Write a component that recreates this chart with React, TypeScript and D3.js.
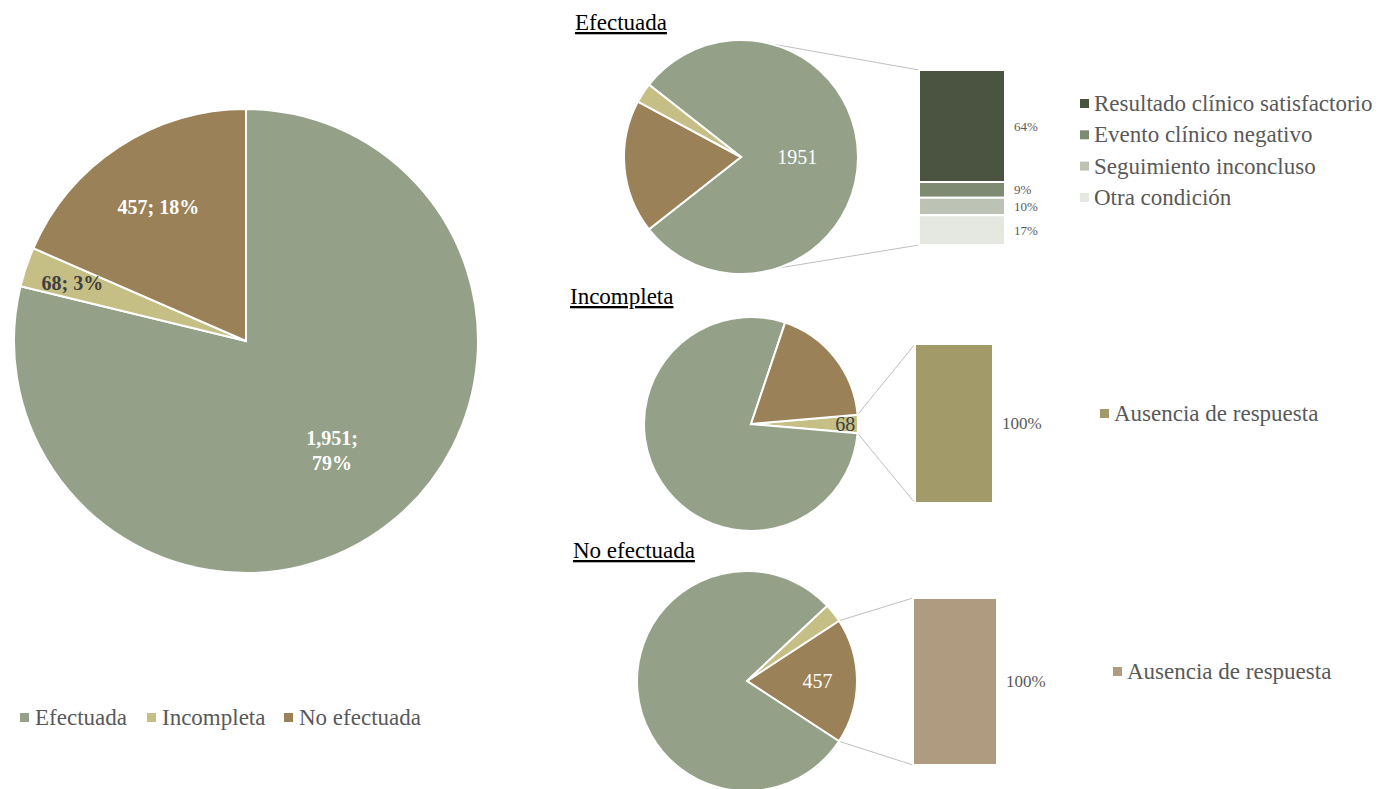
import React from "react";
import * as d3 from "d3";

// ---------- data ----------
const CATEGORIES = ["Efectuada", "Incompleta", "No efectuada"];
const COUNTS = [1951, 68, 457];
const CAT_COLORS = ["#94A088", "#C5BF85", "#9B8157"];

const EFECTUADA_SUB = [
  "Resultado clínico satisfactorio",
  "Evento clínico negativo",
  "Seguimiento inconcluso",
  "Otra condición",
];
const EFECTUADA_PCT = [64, 9, 10, 17];
const EFECTUADA_COLORS = ["#4B5341", "#7F8A72", "#BCC3B5", "#E5E7E1"];

const INCOMPLETA_SUB = ["Ausencia de respuesta"];
const INCOMPLETA_PCT = [100];
const INCOMPLETA_COLORS = ["#A29A68"];

const NO_EFECTUADA_SUB = ["Ausencia de respuesta"];
const NO_EFECTUADA_PCT = [100];
const NO_EFECTUADA_COLORS = ["#AE9B80"];

const FONT = "'Liberation Serif', 'Times New Roman', serif";
const GRAY = "#595959";
const TOTAL = d3.sum(COUNTS);
const fmtComma = d3.format(",");
const fmtPct = d3.format(".0%");
const deg = Math.PI / 180;

function pt(cx: number, cy: number, r: number, a: number) {
  return [cx + r * Math.sin(a), cy - r * Math.cos(a)];
}

function MainPie() {
  const cx = 246, cy = 341, r = 232;
  const arcs = d3.pie<number>().sort(null).value((d) => d)(COUNTS);
  const arc = d3.arc<any>().innerRadius(0).outerRadius(r);
  const labelR = [0.6, 0.79, 0.69];
  const labelColor = ["#fff", "#404040", "#fff"];
  return (
    <g>
      <g transform={`translate(${cx},${cy})`}>
        {arcs.map((a, i) => (
          <path key={i} d={arc(a) as string} fill={CAT_COLORS[i]} stroke="#fff" strokeWidth={2} />
        ))}
        {arcs.map((a, i) => {
          const mid = (a.startAngle + a.endAngle) / 2;
          const [x, y] = pt(0, 0, r * labelR[i], mid);
          const cnt = fmtComma(COUNTS[i]);
          const pc = fmtPct(COUNTS[i] / TOTAL);
          const lines = i === 0 ? [cnt + ";", pc] : [cnt + "; " + pc];
          return (
            <text key={i} x={x} textAnchor="middle" fontFamily={FONT} fontWeight="bold" fontSize={20} fill={labelColor[i]}>
              {lines.map((l, j) => (
                <tspan key={j} x={x} y={y + 7 + (j - (lines.length - 1) / 2) * 25}>{l}</tspan>
              ))}
            </text>
          );
        })}
      </g>
      {/* legend */}
      {CATEGORIES.map((c, i) => {
        const xs = [20, 147, 284];
        return (
          <g key={c}>
            <rect x={xs[i]} y={713} width={9} height={9} fill={CAT_COLORS[i]} />
            <text x={xs[i] + 15} y={725} fontFamily={FONT} fontSize={23} fill={GRAY}>{c}</text>
          </g>
        );
      })}
    </g>
  );
}

type SmallCfg = {
  title: string; titleX: number; titleY: number;
  cx: number; cy: number; r: number;
  order: number[];
  labelR: number; labelColor: string;
  connAngles?: number[];
  bar: { x0: number; x1: number; y0: number; y1: number };
  pct: number[]; colors: string[]; subs: string[];
  barLabelSize: number;
  legend: { x: number; y: number; step: number };
};

function SmallPie({ cfg }: { cfg: SmallCfg }) {
  const { cx, cy, r, order } = cfg;
  const h = order[0];
  const span = (COUNTS[h] / TOTAL) * 2 * Math.PI;
  const s = Math.PI / 2 - span / 2;
  const arcs = d3.pie<number>().sort(null).startAngle(s).endAngle(s + 2 * Math.PI).value((d) => COUNTS[d])(order);
  const arc = d3.arc<any>().innerRadius(0).outerRadius(r);
  const hi = arcs[0];
  const mid = (hi.startAngle + hi.endAngle) / 2;
  const [lx, ly] = pt(cx, cy, r * cfg.labelR, mid);
  const aTop = cfg.connAngles ? cfg.connAngles[0] : hi.startAngle;
  const aBot = cfg.connAngles ? cfg.connAngles[1] : hi.endAngle;
  const [tx, ty] = pt(cx, cy, r, aTop);
  const [bx, by] = pt(cx, cy, r, aBot);
  const { bar } = cfg;
  const y = d3.scaleLinear().domain([0, d3.sum(cfg.pct)]).range([bar.y0, bar.y1]);
  const cum = [0];
  cfg.pct.forEach((p) => cum.push(cum[cum.length - 1] + p));
  return (
    <g>
      <text x={cfg.titleX} y={cfg.titleY} fontFamily={FONT} fontSize={23} fill="#000" style={{ textDecoration: "underline" }}>
        {cfg.title}
      </text>
      <line x1={tx} y1={ty} x2={bar.x0} y2={bar.y0} stroke="#BFBFBF" strokeWidth={1} />
      <line x1={bx} y1={by} x2={bar.x0} y2={bar.y1} stroke="#BFBFBF" strokeWidth={1} />
      <g transform={`translate(${cx},${cy})`}>
        {arcs.map((a, i) => (
          <path key={i} d={arc(a) as string} fill={CAT_COLORS[a.data]} stroke="#fff" strokeWidth={2} />
        ))}
      </g>
      <text x={lx} y={ly + 7} textAnchor="middle" fontFamily={FONT} fontSize={20} fill={cfg.labelColor}>
        {String(COUNTS[h])}
      </text>
      {cfg.pct.map((p, i) => (
        <g key={i}>
          <rect x={bar.x0} y={y(cum[i])} width={bar.x1 - bar.x0} height={y(cum[i + 1]) - y(cum[i])}
            fill={cfg.colors[i]} stroke="#fff" strokeWidth={2} />
          <text x={bar.x1 + 9} y={(y(cum[i]) + y(cum[i + 1])) / 2} dy="0.35em" fontFamily={FONT}
            fontSize={cfg.barLabelSize} fill={GRAY}>{p + "%"}</text>
        </g>
      ))}
      {cfg.subs.map((sname, i) => (
        <g key={i}>
          <rect x={cfg.legend.x} y={cfg.legend.y + i * cfg.legend.step - 4} width={9} height={9} fill={cfg.colors[i]} />
          <text x={cfg.legend.x + 14} y={cfg.legend.y + i * cfg.legend.step + 8} fontFamily={FONT} fontSize={23} fill={GRAY}>{sname}</text>
        </g>
      ))}
    </g>
  );
}

const SMALL: SmallCfg[] = [
  {
    title: CATEGORIES[0], titleX: 575, titleY: 30,
    cx: 741, cy: 157, r: 117, order: [0, 2, 1],
    labelR: 0.48, labelColor: "#fff", connAngles: [14 * deg, 162 * deg],
    bar: { x0: 919, x1: 1005, y0: 70, y1: 245 },
    pct: EFECTUADA_PCT, colors: EFECTUADA_COLORS, subs: EFECTUADA_SUB, barLabelSize: 13,
    legend: { x: 1080, y: 103, step: 31.3 },
  },
  {
    title: CATEGORIES[1], titleX: 570, titleY: 304,
    cx: 751, cy: 424, r: 107, order: [1, 0, 2],
    labelR: 0.88, labelColor: "#404040",
    bar: { x0: 915, x1: 993, y0: 344, y1: 503 },
    pct: INCOMPLETA_PCT, colors: INCOMPLETA_COLORS, subs: INCOMPLETA_SUB, barLabelSize: 17,
    legend: { x: 1100, y: 413, step: 31 },
  },
  {
    title: CATEGORIES[2], titleX: 573, titleY: 558,
    cx: 747, cy: 681, r: 110, order: [2, 0, 1],
    labelR: 0.64, labelColor: "#fff",
    bar: { x0: 913, x1: 997, y0: 598, y1: 765 },
    pct: NO_EFECTUADA_PCT, colors: NO_EFECTUADA_COLORS, subs: NO_EFECTUADA_SUB, barLabelSize: 17,
    legend: { x: 1113, y: 671, step: 31 },
  },
];

export default function App() {
  return (
    <svg width={1384} height={789} style={{ position: "absolute", left: 0, top: 0, background: "#fff" }}>
      <rect width={1384} height={789} fill="#fff" />
      <MainPie />
      {SMALL.map((c, i) => <SmallPie key={i} cfg={c} />)}
    </svg>
  );
}
